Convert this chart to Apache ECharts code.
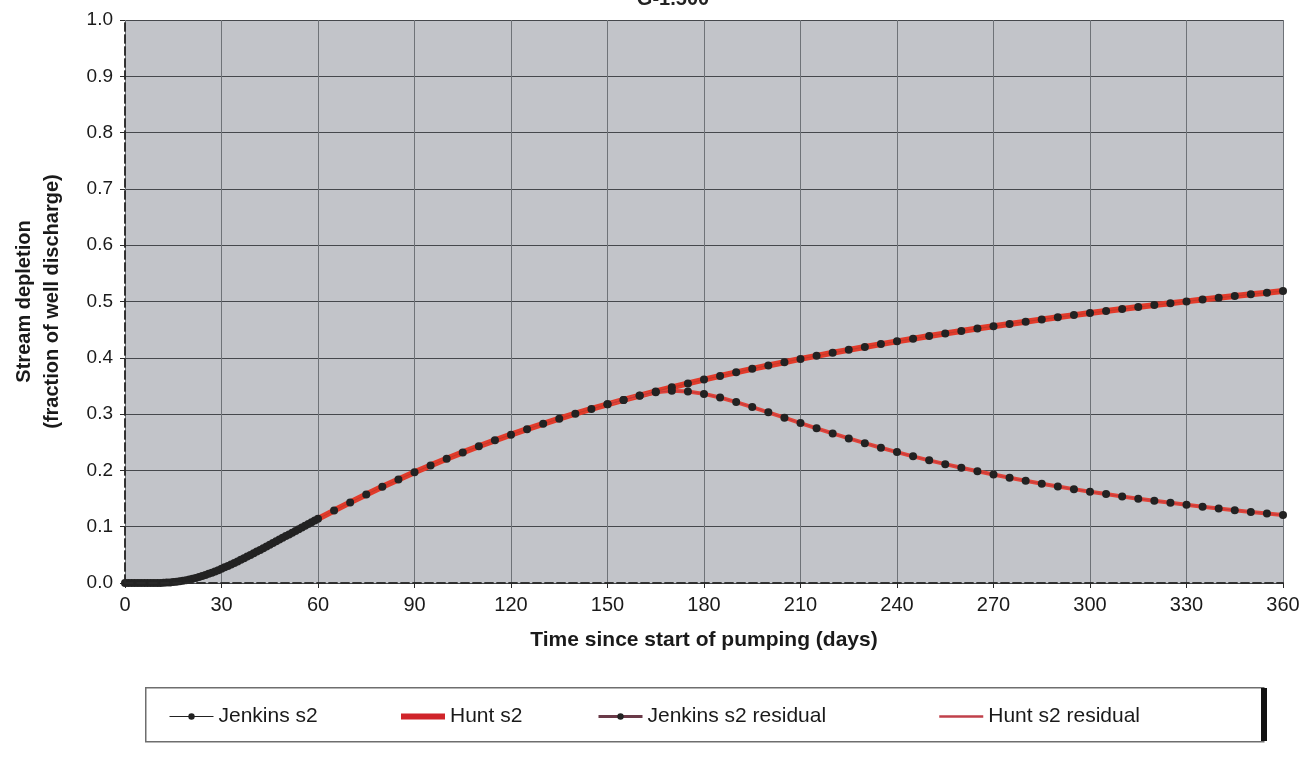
<!DOCTYPE html>
<html>
<head>
<meta charset="utf-8">
<script src="https://cdn.jsdelivr.net/npm/echarts@6/dist/echarts.min.js"></script>
<style>
  html, body { margin: 0; padding: 0; background: #ffffff; }
  #chart { width: 1300px; height: 761px; }
</style>
</head>
<body>
<div id="chart"></div>
<script>
// days since start of pumping (daily to 60, then every 5 days)
const days = [
  0, 1, 2, 3, 4, 5, 6, 7, 8, 9, 10, 11, 12, 13, 14, 15,
  16, 17, 18, 19, 20, 21, 22, 23, 24, 25, 26, 27, 28, 29, 30,
  31, 32, 33, 34, 35, 36, 37, 38, 39, 40, 41, 42, 43, 44, 45,
  46, 47, 48, 49, 50, 51, 52, 53, 54, 55, 56, 57, 58, 59, 60,
  65, 70, 75, 80, 85, 90, 95, 100, 105, 110, 115, 120,
  125, 130, 135, 140, 145, 150, 155, 160, 165, 170, 175, 180,
  185, 190, 195, 200, 205, 210, 215, 220, 225, 230, 235, 240,
  245, 250, 255, 260, 265, 270, 275, 280, 285, 290, 295, 300,
  305, 310, 315, 320, 325, 330, 335, 340, 345, 350, 355, 360,
];
const jenkinsS2 = [
  0, 0, 0, 0, 0, 0, 0, 0, 0, 0, 0.0001, 0.0002, 0.0004, 0.0007, 0.0011, 0.0016,
  0.0022, 0.003, 0.0039, 0.005, 0.0062, 0.0076, 0.0091, 0.0107, 0.0124, 0.0143, 0.0163, 0.0184, 0.0204, 0.0228, 0.0254,
  0.0278, 0.0303, 0.033, 0.0357, 0.0384, 0.0412, 0.044, 0.0469, 0.0498, 0.0528, 0.0558, 0.0588, 0.0618, 0.0648, 0.0679,
  0.0709, 0.0741, 0.0771, 0.0802, 0.0833, 0.0863, 0.0894, 0.0925, 0.0955, 0.0986, 0.1017, 0.1048, 0.1078, 0.1109, 0.1139,
  0.1287, 0.1432, 0.1573, 0.1709, 0.184, 0.1967, 0.2089, 0.2207, 0.232, 0.2429, 0.2534, 0.2635,
  0.2733, 0.2827, 0.2918, 0.3007, 0.3091, 0.3173, 0.3252, 0.3329, 0.3403, 0.3475, 0.3545, 0.3613,
  0.3678, 0.3742, 0.3804, 0.3864, 0.3922, 0.398, 0.4035, 0.4089, 0.4141, 0.4193, 0.4243, 0.4292,
  0.4339, 0.4386, 0.4431, 0.4475, 0.4519, 0.4561, 0.4602, 0.4642, 0.4682, 0.472, 0.4758, 0.4795,
  0.4831, 0.4866, 0.4901, 0.4936, 0.4969, 0.5002, 0.5034, 0.5065, 0.5096, 0.5127, 0.5157, 0.5186,
];
// Hunt curve sits right on the Jenkins one at this scale
const huntS2 = jenkinsS2;

const residualDays = [
  150, 155, 160, 165, 170, 175, 180, 185, 190, 195, 200, 205, 210, 215, 220,
  225, 230, 235, 240, 245, 250, 255, 260, 265, 270, 275, 280, 285, 290, 295,
  300, 305, 310, 315, 320, 325, 330, 335, 340, 345, 350, 355, 360,
];
const jenkinsResidual = [
  0.3173, 0.3252, 0.3328, 0.3387, 0.3413, 0.3402, 0.3359, 0.3294, 0.3214, 0.3125, 0.3031, 0.2936, 0.2841, 0.2748, 0.2657,
  0.2568, 0.2484, 0.2403, 0.2325, 0.225, 0.2179, 0.2111, 0.2046, 0.1985, 0.1926, 0.1869, 0.1815, 0.1764, 0.1713, 0.1667,
  0.1622, 0.1579, 0.1537, 0.1498, 0.1461, 0.1424, 0.1389, 0.1356, 0.1323, 0.1292, 0.1263, 0.1235, 0.1206,
];
const huntResidual = jenkinsResidual;

const xTicks = { min: 0, max: 360, interval: 30 };
const yTicks = { min: 0, max: 1, interval: 0.1 };

const FONT = "'Liberation Sans', Arial, sans-serif";
const zip = (xs, ys) => xs.map((x, i) => [x, ys[i]]);

const chart = echarts.init(document.getElementById("chart"));

const dashedEdge = { show: true, lineStyle: { color: "#2a2a2a", width: 1.5, type: [8, 4] } };
const noDot = { color: "transparent", opacity: 0, borderWidth: 0 };

const legendBase = {
  top: 701,
  itemWidth: 44,
  itemHeight: 8,
  itemGap: 0,
  textStyle: { fontFamily: FONT, fontSize: 21, color: "#1a1a1a", padding: [0, 0, 0, 0] },
};

const option = {
  backgroundColor: "#ffffff",
  animation: false,
  title: {
    text: "G-1.500",
    left: 668,
    top: -16,
    textAlign: "center",
    textStyle: { fontFamily: FONT, fontSize: 20, fontWeight: "bold", color: "#222" },
  },
  grid: {
    left: 125,
    right: 17,
    top: 20,
    bottom: 178,
    containLabel: false,
    outerBoundsMode: "none",
    show: true,
    backgroundColor: "#c2c4c9",
    borderWidth: 0,
  },
  graphic: [
    {
      type: "rect",
      left: 145,
      top: 687,
      shape: { width: 1118, height: 54 },
      style: { fill: "#ffffff", stroke: "#6e6e6e", lineWidth: 1.5 },
      z: -1,
    },
    {
      type: "rect",
      left: 1261,
      top: 688,
      shape: { width: 6, height: 53 },
      style: { fill: "#111111" },
      z: -1,
    },
  ],
  legend: [
    Object.assign({}, legendBase, {
      left: 164,
      data: [{ name: "Jenkins s2", lineStyle: { color: "#222", width: 1 } }],
    }),
    Object.assign({}, legendBase, {
      left: 393,
      data: [{ name: "Hunt s2", lineStyle: { color: "#d0242a", width: 6 }, itemStyle: noDot }],
    }),
    Object.assign({}, legendBase, {
      left: 592,
      data: [{ name: "Jenkins s2 residual", lineStyle: { color: "#6a3a48", width: 3 } }],
    }),
    Object.assign({}, legendBase, {
      left: 933,
      data: [{ name: "Hunt s2 residual", lineStyle: { color: "#c0404a", width: 2.5 }, itemStyle: noDot }],
    }),
  ],
  xAxis: [
    {
      type: "value",
      min: xTicks.min,
      max: xTicks.max,
      interval: xTicks.interval,
      name: "Time since start of pumping (days)",
      nameLocation: "middle",
      nameGap: 47,
      nameTextStyle: { fontFamily: FONT, fontSize: 21, fontWeight: "bold", color: "#1a1a1a" },
      axisLine: dashedEdge,
      axisTick: { show: true, length: 5, lineStyle: { color: "#2a2a2a" } },
      axisLabel: { fontFamily: FONT, fontSize: 20, color: "#1a1a1a", margin: 12 },
      splitLine: { show: true, lineStyle: { color: "#6f7378", width: 1 } },
    },
    {
      type: "value",
      position: "top",
      min: xTicks.min,
      max: xTicks.max,
      axisLine: dashedEdge,
      axisTick: { show: false },
      axisLabel: { show: false },
      splitLine: { show: false },
      z: 5,
    },
  ],
  yAxis: [
    {
      type: "value",
      min: yTicks.min,
      max: yTicks.max,
      interval: yTicks.interval,
      name: "Stream depletion\n(fraction of well discharge)",
      nameLocation: "middle",
      nameGap: 59,
      nameTextStyle: {
        fontFamily: FONT,
        fontSize: 20,
        fontWeight: "bold",
        color: "#1a1a1a",
        lineHeight: 28,
      },
      axisLine: dashedEdge,
      axisTick: { show: true, length: 5, lineStyle: { color: "#2a2a2a" } },
      axisLabel: {
        fontFamily: FONT,
        fontSize: 19,
        color: "#1a1a1a",
        margin: 12,
        formatter: (v) => v.toFixed(1),
      },
      splitLine: { show: true, lineStyle: { color: "#45484c", width: 1 } },
    },
    {
      type: "value",
      position: "right",
      min: yTicks.min,
      max: yTicks.max,
      axisLine: dashedEdge,
      axisTick: { show: false },
      axisLabel: { show: false },
      splitLine: { show: false },
      z: 5,
    },
  ],
  series: [
    {
      name: "Hunt s2",
      type: "line",
      data: zip(days, huntS2),
      symbol: "none",
      lineStyle: { color: "#e23a2a", width: 6 },
      itemStyle: { color: "#d0242a" },
      z: 2,
    },
    {
      name: "Jenkins s2",
      type: "line",
      data: zip(days, jenkinsS2),
      symbol: "circle",
      symbolSize: 8,
      showAllSymbol: true,
      lineStyle: { color: "#c23a2a", width: 1 },
      itemStyle: { color: "#222222" },
      z: 3,
    },
    {
      name: "Hunt s2 residual",
      type: "line",
      data: zip(residualDays, huntResidual),
      symbol: "none",
      lineStyle: { color: "#e0453a", width: 4 },
      itemStyle: { color: "#c0404a" },
      z: 2,
    },
    {
      name: "Jenkins s2 residual",
      type: "line",
      data: zip(residualDays, jenkinsResidual),
      symbol: "circle",
      symbolSize: 8,
      showAllSymbol: true,
      lineStyle: { color: "#c8383a", width: 1 },
      itemStyle: { color: "#222222" },
      z: 3,
    },
  ],
};

chart.setOption(option);
</script>
</body>
</html>
